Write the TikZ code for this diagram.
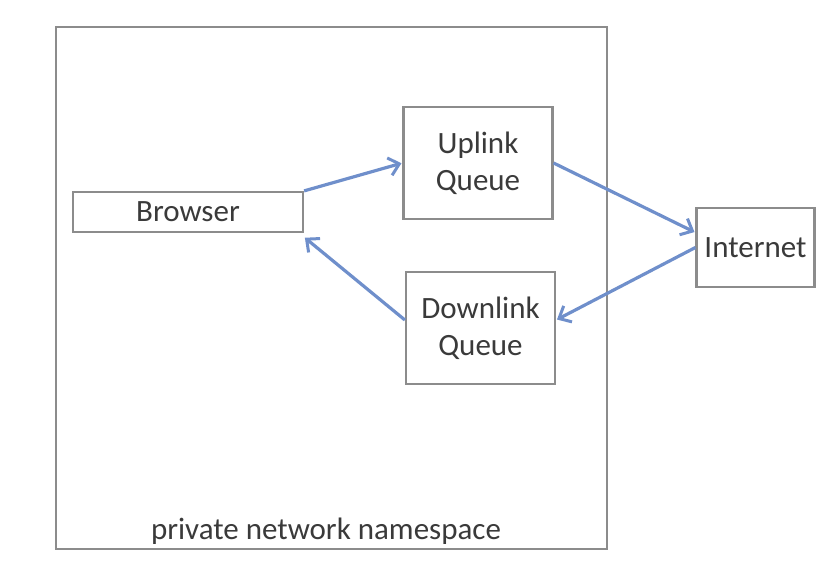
\documentclass[tikz,border=0pt]{standalone}
\usepackage{fontspec}
\setmainfont{Carlito}
\usetikzlibrary{arrows.meta}
\definecolor{boxgray}{HTML}{8C8C8C}
\definecolor{txtgray}{HTML}{3A3A3A}
\definecolor{arrowblue}{HTML}{6F8FCB}
\tikzset{
  box/.style={draw=boxgray, line width=2.2pt, rectangle, inner sep=0pt, align=center,
    text=txtgray, font=\fontsize{31}{37}\selectfont},
  flow/.style={draw=arrowblue, line width=3.2pt, -{Straight Barb[length=10pt,width=18pt,line width=3pt]}, shorten >=1pt},
}
\begin{document}
\begin{tikzpicture}[x=1pt,y=-1pt]
\useasboundingbox (0,0) rectangle (831,584);
\node[box, minimum width=551pt, minimum height=522pt] (ns) at (331.5,288) {};
\node[text=txtgray, font=\fontsize{31}{37}\selectfont, anchor=base] (nslabel) at (326,539) {private network namespace};
\node[box, minimum width=230pt, minimum height=40pt] (browser) at (188,212) {Browser};
\node[box, minimum width=149pt, minimum height=112pt] (uplink) at (478,163) {Uplink\\Queue};
\node[box, minimum width=149pt, minimum height=112pt] (downlink) at (480.5,328) {Downlink\\Queue};
\node[box, minimum width=118pt, minimum height=79pt] (internet) at (755.5,247.5) {Internet};
\draw[flow] (browser.north east) -- (uplink.west);
\draw[flow] (uplink.east) -- ([yshift=15pt]internet.west);
\draw[flow] (internet.west) -- ([yshift=8pt]downlink.east);
\draw[flow] ([yshift=8pt]downlink.west) -- ([yshift=-4pt]browser.south east);
\end{tikzpicture}
\end{document}
